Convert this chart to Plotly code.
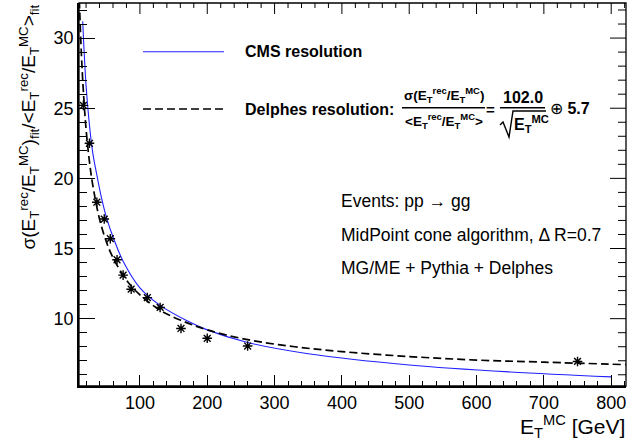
import plotly.graph_objects as go

# ---------------- data ----------------
point_et = [16, 25, 36, 47, 56, 66, 75, 87, 111, 130, 161, 200, 260, 750]
point_res = [25.2, 22.5, 18.3, 17.1, 15.7, 14.2, 13.1, 12.1, 11.5, 10.8, 9.3, 8.6, 8.05, 6.95]

cms_et = [15, 20, 25, 30, 37, 43, 51, 61, 75, 100, 130, 170, 200, 260, 350, 500, 650, 800]
cms_res = [31.2, 26.6, 23.8, 21.8, 20.0, 18.6, 17.1, 15.7, 14.1, 12.2, 10.95, 9.85, 9.2, 8.3, 7.5, 6.7, 6.2, 5.85]

delphes_et = [10, 13, 16, 20, 25, 30, 40, 50, 60, 80, 100, 130, 160, 200, 260, 330, 400, 500, 600, 700, 823]
delphes_res = [32.7, 28.9, 26.2, 23.5, 21.2, 19.5, 17.1, 15.5, 14.35, 12.75, 11.7, 10.6, 9.9, 9.2, 8.5, 8.0, 7.65, 7.3, 7.05, 6.9, 6.72]

x_ticks = [100, 200, 300, 400, 500, 600, 700, 800]
y_ticks = [10, 15, 20, 25, 30]
x_range = [9.5, 822]
y_range = [5.2, 32.5]

# ---------------- geometry ----------------
W, H = 628, 445
L, R, T, B = 79, 626, 3, 386


def px(x):
    return (x - L) / (R - L)


def py(y):
    return (B - y) / (B - T)


FONT = "Liberation Sans, Arial, Helvetica, sans-serif"

fig = go.Figure()

fig.add_trace(go.Scatter(x=cms_et, y=cms_res, mode="lines", line=dict(color="#2020ff", width=1.1, shape="spline"),
                         showlegend=False, hoverinfo="skip"))
fig.add_trace(go.Scatter(x=delphes_et, y=delphes_res, mode="lines",
                         line=dict(color="black", width=1.7, dash="8px,4px", shape="spline"),
                         showlegend=False, hoverinfo="skip"))
fig.add_trace(go.Scatter(x=point_et, y=point_res, mode="markers",
                         marker=dict(symbol="asterisk-open", size=8, color="black", line=dict(width=1.4, color="black")),
                         showlegend=False))

axis_common = dict(showgrid=False, zeroline=False, showline=True, linecolor="black", linewidth=1.5,
                   ticks="inside", tickcolor="black",
                   tickfont=dict(family=FONT, size=18, color="black"))

fig.update_xaxes(range=x_range, tickvals=x_ticks, ticklen=11, tickwidth=1,
                 minor=dict(ticks="inside", ticklen=5, dtick=20, tick0=0, tickcolor="black", tickwidth=1),
                 **axis_common)
fig.update_yaxes(range=y_range, tickvals=y_ticks, ticklen=16, tickwidth=1,
                 minor=dict(ticks="inside", ticklen=8, dtick=1, tick0=0, tickcolor="black", tickwidth=1),
                 **axis_common)

shapes = []
# frame
shapes.append(dict(type="rect", xref="paper", yref="paper", x0=0, x1=1, y0=0, y1=1,
                   line=dict(color="black", width=1.3), layer="above"))
# ticks on the top and right sides of the frame
for v in range(20, 821, 20):
    ln = 11 if v in x_ticks else 5
    shapes.append(dict(type="line", xref="x", yref="paper", x0=v, x1=v, y0=1, y1=1 - ln / (B - T),
                       line=dict(color="black", width=1)))
for v in range(6, 33):
    ln = 16 if v in y_ticks else 8
    shapes.append(dict(type="line", xref="paper", yref="y", x0=1, x1=1 - ln / (R - L), y0=v, y1=v,
                       line=dict(color="black", width=1)))
# legend samples
shapes.append(dict(type="line", xref="paper", yref="paper", x0=px(143), x1=px(224), y0=py(51.7), y1=py(51.7),
                   line=dict(color="#2020ff", width=1.1)))
shapes.append(dict(type="line", xref="paper", yref="paper", x0=px(143), x1=px(224), y0=py(109), y1=py(109),
                   line=dict(color="black", width=1.5, dash="8px,4px")))
# fraction bars
shapes.append(dict(type="line", xref="paper", yref="paper", x0=px(402), x1=px(485), y0=py(107.7), y1=py(107.7),
                   line=dict(color="black", width=1.6)))
shapes.append(dict(type="line", xref="paper", yref="paper", x0=px(500), x1=px(545), y0=py(107.7), y1=py(107.7),
                   line=dict(color="black", width=1.6)))
# square root sign
sq = [(500, 125), (503, 122), (509, 137), (513, 111), (546, 111)]
path = "M " + " L ".join(f"{px(a)},{py(b)}" for a, b in sq)
shapes.append(dict(type="path", xref="paper", yref="paper", path=path, line=dict(color="black", width=1.4)))

annotations = []


def ann(text, x, y, size, xanchor="left", yanchor="middle", angle=0, bold=False):
    annotations.append(dict(text=(f"<b>{text}</b>" if bold else text), xref="paper", yref="paper",
                            x=px(x), y=py(y), xanchor=xanchor, yanchor=yanchor, showarrow=False,
                            textangle=angle, font=dict(family=FONT, size=size, color="black")))


ann("CMS resolution", 243, 52, 16, bold=True)
ann("Delphes resolution:", 243, 109, 16, bold=True)
ann("σ(E<sub>T</sub><sup>rec</sup>/E<sub>T</sub><sup>MC</sup>)", 443.5, 95, 13.5, xanchor="center", bold=True)
ann("&lt;E<sub>T</sub><sup>rec</sup>/E<sub>T</sub><sup>MC</sup>&gt;", 443.5, 121, 13.5, xanchor="center", bold=True)
ann("=", 490.5, 109, 15, xanchor="center", bold=True)
ann("102.0", 522.5, 97, 16, xanchor="center", bold=True)
ann("E<sub>T</sub><sup>MC</sup>", 531, 124, 16, xanchor="center", bold=True)
ann("⊕ <b>5.7</b>", 548, 108, 16)

ann("Events: pp → gg", 339, 201, 17.5)
ann("MidPoint cone algorithm, Δ R=0.7", 339, 235, 17.5)
ann("MG/ME + Pythia + Delphes", 339, 268, 17.5)

ann("E<sub>T</sub><sup>MC</sup> [GeV]", 627, 426, 21, xanchor="right")
ann("σ(E<sub>T</sub><sup>rec</sup>/E<sub>T</sub><sup>MC</sup>)<sub>fit</sub>/&lt;E<sub>T</sub><sup>rec</sup>/E<sub>T</sub><sup>MC</sup>&gt;<sub>fit</sub>",
    29, 3, 19, xanchor="center", yanchor="top", angle=-90)

fig.update_layout(width=W, height=H, margin=dict(l=L, r=W - R, t=T, b=H - B),
                  paper_bgcolor="white", plot_bgcolor="white", shapes=shapes, annotations=annotations,
                  font=dict(family=FONT, color="black"))

fig.write_html("out.html", config={"displayModeBar": False},
               post_script="document.body.style.margin='0';document.body.style.overflow='hidden';")
